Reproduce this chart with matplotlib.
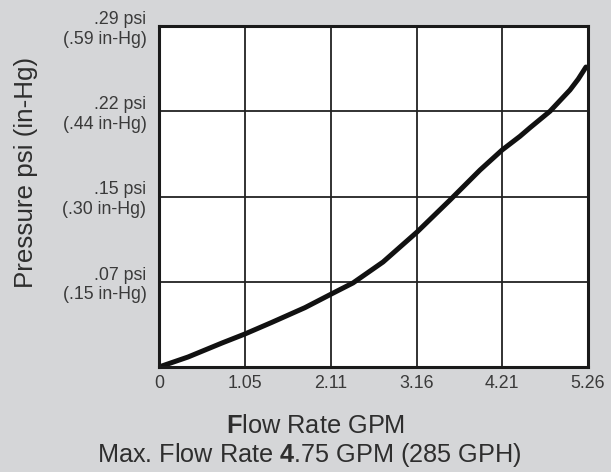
import matplotlib
matplotlib.use('Agg')
import matplotlib.pyplot as plt

plt.rcParams['font.family'] = ['Liberation Sans', 'DejaVu Sans']
plt.rcParams['mathtext.fontset'] = 'custom'
plt.rcParams['mathtext.rm'] = 'Liberation Sans'
plt.rcParams['mathtext.bf'] = 'Liberation Sans:bold'

# curve (GPM, psi)
flow = [0.0, 0.356, 0.772, 1.054, 1.385, 1.790, 2.133, 2.379, 2.747, 3.164,
        3.568, 3.936, 4.206, 4.426, 4.549, 4.794, 5.039, 5.140, 5.235]
pressure = [0.0, 0.0085, 0.0204, 0.0281, 0.0380, 0.0505, 0.0628, 0.0715, 0.0893, 0.1148,
            0.1420, 0.1675, 0.1845, 0.1962, 0.2035, 0.2175, 0.2356, 0.2448, 0.2551]

x_ticks = [0, 1.05, 2.11, 3.16, 4.21, 5.26]
x_labels = ['0', '1.05', '2.11', '3.16', '4.21', '5.26']
y_ticks = [0.0725, 0.145, 0.2175, 0.29]
y_labels = ['.07 psi\n(.15 in-Hg)', '.15 psi\n(.30 in-Hg)',
            '.22 psi\n(.44 in-Hg)', '.29 psi\n(.59 in-Hg)']

bg = '#d5d6d8'
txt = '#2e2e2e'

fig = plt.figure(figsize=(6.11, 4.72), dpi=100, facecolor=bg)
ax = fig.add_axes([159/611, 105/472, 429/611, 341/472])
ax.set_facecolor('white')

ax.plot(flow, pressure, color='#111111', linewidth=3.6,
        solid_capstyle='round', solid_joinstyle='round')

ax.set_xlim(0, 5.26)
ax.set_ylim(0, 0.29)
ax.set_xticks(x_ticks)
ax.set_xticklabels(x_labels)
ax.set_yticks(y_ticks)
ax.set_yticklabels(y_labels, ha='right', linespacing=1.2)
ax.tick_params(length=0, labelsize=12.8, colors='#3a3a3a')
ax.tick_params(axis='x', pad=6)
ax.tick_params(axis='y', pad=9)
ax.grid(True, color='#222222', linewidth=1.3)
for s in ax.spines.values():
    s.set_linewidth(2.2)
    s.set_color('#1a1a1a')

fig.text(26/611, (472-172)/472, 'Pressure psi (in-Hg)', rotation=90,
         ha='center', va='center', fontsize=18.7, color=txt)
fig.text(316/611, (472-426)/472, r'$\mathbf{F}$low Rate GPM', ha='center', va='center',
         fontsize=18.3, color=txt)
fig.text(309/611, (472-455)/472, r'Max. Flow Rate $\mathbf{4}$.75 GPM (285 GPH)',
         ha='center', va='center', fontsize=18.2, color=txt)

fig.savefig('out.png', dpi=100, facecolor=bg)
